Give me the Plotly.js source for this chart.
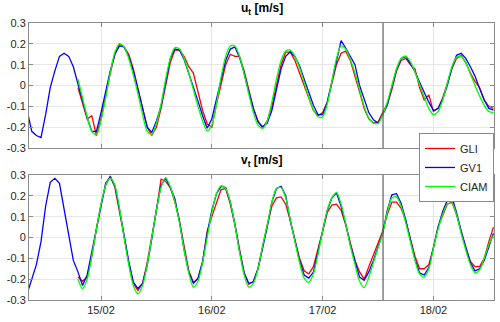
<!DOCTYPE html>
<html>
<head>
<meta charset="utf-8">
<script src="https://cdn.plot.ly/plotly-3.0.1.min.js"></script>
<style>html,body{margin:0;padding:0;background:#fff;}#chart{width:500px;height:322px;}</style>
</head>
<body>
<div id="chart"></div>
<script>
// hourly samples; observation series start 14/02 08:00, model series start 14/02 19:00
const obsStart = '2024-02-14T08:00:00Z';
const modelStart = '2024-02-14T19:00:00Z';
const stepHours = 1;

// u_t [m/s]
const uGV1 = [-0.12,-0.22,-0.24,-0.25,-0.14,-0.01,0.07,0.14,0.155,0.14,0.09,0.01,-0.075,-0.155,-0.22,-0.22,-0.13,-0.03,0.07,0.15,
  0.19,0.185,0.14,0.07,-0.02,-0.12,-0.2,-0.225,-0.17,-0.1,0.01,0.13,0.175,0.17,0.125,0.06,0.0,-0.075,-0.145,-0.205,
  -0.16,-0.07,0.03,0.12,0.175,0.185,0.135,0.06,-0.03,-0.11,-0.175,-0.198,-0.18,-0.12,-0.02,0.08,0.14,0.162,0.138,0.095,
  0.03,-0.035,-0.095,-0.14,-0.14,-0.08,0.02,0.11,0.215,0.18,0.14,0.1,0.0,-0.07,-0.13,-0.165,-0.18,-0.14,-0.095,-0.006,
  0.075,0.13,0.14,0.105,0.066,0.015,-0.035,-0.08,-0.12,-0.11,-0.065,0.0,0.085,0.145,0.155,0.13,0.09,0.045,-0.015,-0.07,
  -0.11,-0.118];
const uGLI = [-0.01,-0.09,-0.16,-0.145,-0.24,-0.16,-0.05,0.06,0.15,0.2,0.185,0.15,0.08,-0.01,-0.11,-0.2,-0.24,-0.2,-0.11,0.0,
  0.11,0.17,0.17,0.14,0.09,0.06,-0.03,-0.12,-0.185,-0.2,-0.09,0.0,0.1,0.15,0.14,0.14,0.07,-0.02,-0.11,-0.17,
  -0.205,-0.17,-0.1,0.0,0.1,0.16,0.16,0.12,0.06,0.0,-0.06,-0.12,-0.145,-0.13,-0.08,0.01,0.1,0.155,0.165,0.12,
  0.05,-0.03,-0.11,-0.16,-0.18,-0.175,-0.13,-0.09,-0.02,0.07,0.12,0.13,0.1,0.08,-0.01,-0.07,-0.045,-0.125,-0.11,-0.06,
  0.01,0.08,0.13,0.145,0.11,0.06,0.02,-0.01,-0.07,-0.1,-0.11];
const uCIAM = [0.03,-0.06,-0.15,-0.22,-0.235,-0.17,-0.06,0.06,0.16,0.2,0.185,0.13,0.05,-0.04,-0.14,-0.22,-0.235,-0.18,-0.09,0.03,
  0.13,0.182,0.175,0.13,0.06,-0.02,-0.1,-0.17,-0.218,-0.19,-0.09,0.04,0.14,0.19,0.19,0.14,0.055,-0.04,-0.13,-0.19,
  -0.205,-0.17,-0.08,0.03,0.12,0.165,0.17,0.14,0.085,0.015,-0.055,-0.115,-0.15,-0.15,-0.09,0.02,0.13,0.19,0.175,0.125,
  0.06,-0.02,-0.1,-0.155,-0.18,-0.182,-0.14,-0.08,0.0,0.08,0.13,0.14,0.115,0.065,0.005,-0.055,-0.11,-0.14,-0.125,-0.07,
  0.01,0.09,0.135,0.14,0.11,0.055,0.0,-0.05,-0.095,-0.125,-0.13];

// v_t [m/s]
const vGV1 = [-0.27,-0.198,-0.13,-0.02,0.15,0.265,0.284,0.26,0.13,0.02,-0.11,-0.165,-0.23,-0.18,-0.07,0.045,0.165,0.26,0.29,0.25,
  0.135,0.0,-0.115,-0.214,-0.245,-0.22,-0.135,-0.006,0.135,0.25,0.287,0.24,0.186,0.075,-0.06,-0.165,-0.22,-0.195,-0.115,0.02,
  0.13,0.21,0.245,0.24,0.17,0.065,-0.065,-0.17,-0.22,-0.214,-0.15,-0.05,0.05,0.17,0.235,0.245,0.2,0.08,-0.015,-0.11,
  -0.18,-0.195,-0.166,-0.07,0.03,0.13,0.19,0.215,0.15,0.065,-0.035,-0.118,-0.19,-0.205,-0.165,-0.11,-0.05,0.02,0.13,0.205,
  0.21,0.165,0.085,-0.01,-0.105,-0.17,-0.18,-0.145,-0.04,0.05,0.125,0.178,0.194,0.12,0.03,-0.05,-0.12,-0.16,-0.15,-0.11,
  -0.04,0.02];
const vGLI = [-0.19,-0.21,-0.19,-0.09,0.04,0.16,0.25,0.295,0.24,0.13,0.005,-0.12,-0.22,-0.255,-0.22,-0.12,0.0,0.13,0.28,0.27,
  0.24,0.17,0.08,-0.05,-0.16,-0.215,-0.2,-0.12,0.03,0.1,0.16,0.23,0.235,0.16,0.06,-0.06,-0.17,-0.225,-0.21,-0.15,
  -0.04,0.06,0.15,0.19,0.195,0.16,0.08,-0.01,-0.1,-0.16,-0.175,-0.14,-0.06,0.03,0.12,0.155,0.16,0.13,0.06,-0.03,
  -0.11,-0.165,-0.2,-0.14,-0.085,-0.03,0.03,0.11,0.17,0.17,0.14,0.08,0.0,-0.09,-0.15,-0.15,-0.13,-0.05,0.05,0.11,
  0.16,0.17,0.11,0.03,-0.05,-0.115,-0.14,-0.14,-0.1,-0.02,0.05];
const vCIAM = [-0.2,-0.245,-0.2,-0.09,0.04,0.16,0.25,0.285,0.25,0.14,0.0,-0.13,-0.23,-0.27,-0.23,-0.13,0.0,0.13,0.24,0.285,
  0.245,0.17,0.07,-0.06,-0.17,-0.238,-0.21,-0.12,0.0,0.12,0.21,0.248,0.235,0.17,0.06,-0.07,-0.18,-0.238,-0.22,-0.15,
  -0.04,0.06,0.17,0.235,0.24,0.19,0.085,-0.02,-0.12,-0.195,-0.215,-0.175,-0.08,0.03,0.13,0.19,0.215,0.16,0.065,-0.04,
  -0.13,-0.21,-0.24,-0.19,-0.12,-0.05,0.02,0.12,0.19,0.195,0.15,0.07,-0.02,-0.11,-0.175,-0.19,-0.15,-0.05,0.04,0.11,
  0.16,0.165,0.11,0.02,-0.06,-0.13,-0.17,-0.155,-0.1,-0.035,0.01];

const seriesNames = ['GLI','GV1','CIAM'];
const seriesColors = ['#ff0000','#0000ff','#00ff00'];
const dayTickLabels = ['15/02','16/02','17/02','18/02'];
const dayTickDates = ['2024-02-15','2024-02-16','2024-02-17','2024-02-18'];
const yTickVals = [-0.3,-0.2,-0.1,0,0.1,0.2,0.3];
const yTickText = ['-0.3','-0.2','-0.1','0','0.1','0.2','0.3'];
const xRange = ['2024-02-14 08:24','2024-02-18 13:07'];
const markerTime = '2024-02-17 13:05';

function times(startIso, n){
  const t0 = Date.parse(startIso);
  const out = [];
  for(let i=0;i<n;i++){
    out.push(new Date(t0 + i*stepHours*3600000).toISOString().slice(0,19).replace('T',' '));
  }
  return out;
}

const font = {family:'"Liberation Sans", Arial, sans-serif', size:11, color:'#262626'};
const traces = [];
function addPanel(vals, xa, ya, showLegend){
  const starts = [modelStart, obsStart, modelStart];
  vals.forEach((v,i)=>{
    const smooth = (i === 2);
    traces.push({type:'scatter', mode:'lines', x:times(starts[i], v.length), y:v,
      name:seriesNames[i], legendgroup:seriesNames[i], showlegend:showLegend,
      line:{color:seriesColors[i], width:1.3, shape: smooth ? 'spline' : 'linear', smoothing:0.8},
      xaxis:xa, yaxis:ya, hoverinfo:'skip'});
  });
}
addPanel([uGLI,uGV1,uCIAM],'x2','y2',true);
addPanel([vGLI,vGV1,vCIAM],'x','y',false);

const axBase = {showline:true, linecolor:'#8a8a8a', linewidth:1, mirror:'allticks', ticks:'inside', ticklen:4,
  tickcolor:'#8a8a8a', showgrid:true, gridcolor:'#e6e6e6', gridwidth:1, zeroline:false, tickfont:font};
const xBase = Object.assign({}, axBase, {type:'date', range:xRange, tickmode:'array', tickvals:dayTickDates, ticktext:dayTickLabels});
const yBase = Object.assign({}, axBase, {range:[-0.3,0.3], tickmode:'array', tickvals:yTickVals, ticktext:yTickText});

const layout = {
  width:500, height:322, paper_bgcolor:'#fff', plot_bgcolor:'#fff',
  margin:{l:29, r:6, t:23, b:22}, font:font, showlegend:true,
  xaxis: Object.assign({}, xBase, {domain:[0,1], anchor:'y'}),
  yaxis: Object.assign({}, yBase, {domain:[0,0.4513], anchor:'x'}),
  xaxis2: Object.assign({}, xBase, {domain:[0,1], anchor:'y2', showticklabels:false, matches:'x'}),
  yaxis2: Object.assign({}, yBase, {domain:[0.5487,1], anchor:'x2'}),
  legend:{x:1, y:0.603, xanchor:'right', yanchor:'top', bgcolor:'#fff', bordercolor:'#8a8a8a', borderwidth:1,
    font:{family:font.family, size:11, color:'#262626'}, tracegroupgap:0, itemwidth:30},
  shapes:[
    {type:'line', xref:'x2', yref:'y2 domain', x0:markerTime, x1:markerTime, y0:0, y1:1, line:{color:'#404040', width:1}},
    {type:'line', xref:'x', yref:'y domain', x0:markerTime, x1:markerTime, y0:0, y1:1, line:{color:'#404040', width:1}}
  ],
  annotations:[
    {text:'<b>u<sub>t</sub> [m/s]</b>', xref:'paper', yref:'paper', x:0.5, y:1, yshift:4, xanchor:'center', yanchor:'bottom', showarrow:false, font:{family:font.family, size:12, color:'#000'}},
    {text:'<b>v<sub>t</sub> [m/s]</b>', xref:'paper', yref:'paper', x:0.5, y:0.4513, yshift:4, xanchor:'center', yanchor:'bottom', showarrow:false, font:{family:font.family, size:12, color:'#000'}}
  ]
};
Plotly.newPlot('chart', traces, layout, {staticPlot:true, displayModeBar:false});
</script>
</body>
</html>
